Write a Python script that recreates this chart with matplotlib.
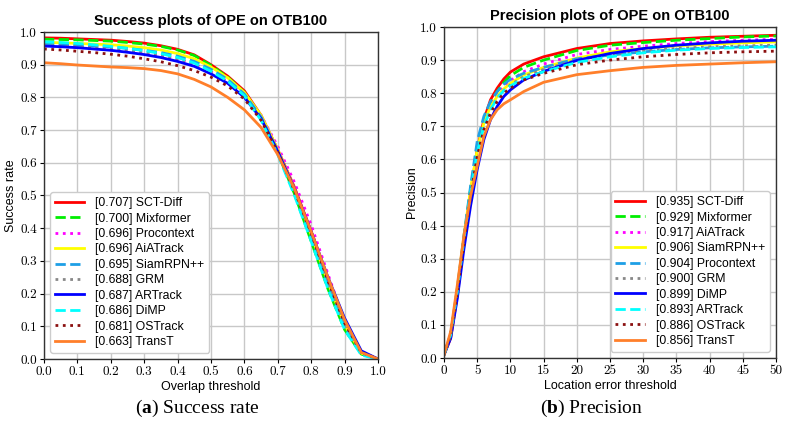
import numpy as np
import matplotlib
matplotlib.use('Agg')
import matplotlib.pyplot as plt

plt.rcParams['font.family'] = ['Liberation Sans', 'DejaVu Sans']
plt.rcParams['mathtext.fontset'] = 'custom'
plt.rcParams['mathtext.rm'] = 'Liberation Serif'
plt.rcParams['mathtext.bf'] = 'Liberation Serif:bold'
plt.rcParams['axes.formatter.use_mathtext'] = True

# line styles by rank in legend
colors = ['#ff0000', '#00ee00', '#ff00ff', '#ffff00', '#1e9fe6',
          '#888888', '#0000ff', '#00ffff', '#8b1010', '#ff7f2a']
styles = ['-', '--', ':', '-', '--', ':', '-', '--', ':', '-']

# ---- success plot ----
succ_x = [0.0, 0.05, 0.1, 0.15, 0.2, 0.25, 0.3, 0.35, 0.4, 0.45, 0.5,
          0.55, 0.6, 0.65, 0.7, 0.75, 0.8, 0.85, 0.9, 0.95, 1.0]
succ_names = ['SCT-Diff', 'Mixformer', 'Procontext', 'AiATrack', 'SiamRPN++',
              'GRM', 'ARTrack', 'DiMP', 'OSTrack', 'TransT']
succ_auc = [0.707, 0.700, 0.696, 0.696, 0.695, 0.688, 0.687, 0.686, 0.681, 0.663]
succ_sct = [0.982, 0.981, 0.979, 0.977, 0.975, 0.971, 0.966, 0.958, 0.947, 0.930, 0.900,
            0.865, 0.820, 0.745, 0.640, 0.525, 0.390, 0.245, 0.115, 0.020, 0.0]
succ_mix = [0.978, 0.977, 0.976, 0.974, 0.972, 0.968, 0.963, 0.956, 0.945, 0.928, 0.898,
            0.862, 0.815, 0.740, 0.630, 0.505, 0.360, 0.215, 0.090, 0.015, 0.0]
succ_pro = [0.958, 0.956, 0.953, 0.949, 0.945, 0.940, 0.934, 0.926, 0.916, 0.901, 0.878,
            0.848, 0.808, 0.745, 0.650, 0.540, 0.410, 0.260, 0.115, 0.020, 0.0]
succ_aia = [0.968, 0.967, 0.965, 0.963, 0.961, 0.957, 0.952, 0.945, 0.934, 0.918, 0.893,
            0.860, 0.815, 0.745, 0.640, 0.520, 0.380, 0.235, 0.105, 0.018, 0.0]
succ_siam = [0.962, 0.961, 0.959, 0.957, 0.954, 0.950, 0.944, 0.937, 0.926, 0.910, 0.886,
             0.855, 0.810, 0.740, 0.635, 0.515, 0.375, 0.230, 0.100, 0.015, 0.0]
succ_grm = [0.958, 0.957, 0.955, 0.952, 0.949, 0.944, 0.938, 0.930, 0.918, 0.902, 0.878,
            0.848, 0.805, 0.735, 0.632, 0.515, 0.378, 0.232, 0.100, 0.015, 0.0]
succ_ar = [0.957, 0.955, 0.952, 0.948, 0.944, 0.938, 0.931, 0.922, 0.910, 0.895, 0.872,
           0.843, 0.800, 0.735, 0.635, 0.520, 0.390, 0.250, 0.125, 0.025, 0.0]
succ_dimp = [0.970, 0.968, 0.965, 0.961, 0.956, 0.950, 0.943, 0.934, 0.922, 0.905, 0.880,
             0.850, 0.805, 0.730, 0.625, 0.500, 0.360, 0.215, 0.090, 0.012, 0.0]
succ_os = [0.948, 0.945, 0.941, 0.937, 0.932, 0.926, 0.918, 0.909, 0.897, 0.882, 0.862,
           0.835, 0.795, 0.730, 0.632, 0.515, 0.385, 0.240, 0.110, 0.020, 0.0]
succ_transt = [0.906, 0.903, 0.899, 0.896, 0.893, 0.891, 0.888, 0.882, 0.872, 0.855, 0.832,
               0.800, 0.762, 0.708, 0.625, 0.520, 0.390, 0.250, 0.120, 0.020, 0.0]
succ_vals = [succ_sct, succ_mix, succ_pro, succ_aia, succ_siam,
             succ_grm, succ_ar, succ_dimp, succ_os, succ_transt]

# ---- precision plot ----
prec_x = [0, 1, 2, 3, 4, 5, 6, 7, 8, 9, 10, 12, 15, 20, 25, 30, 35, 40, 45, 50]
prec_names = ['SCT-Diff', 'Mixformer', 'AiATrack', 'SiamRPN++', 'Procontext',
              'GRM', 'DiMP', 'ARTrack', 'OSTrack', 'TransT']
prec_score = [0.935, 0.929, 0.917, 0.906, 0.904, 0.900, 0.899, 0.893, 0.886, 0.856]
prec_sct = [0.01, 0.06, 0.19, 0.35, 0.50, 0.63, 0.72, 0.78, 0.815, 0.843, 0.864,
            0.888, 0.910, 0.935, 0.950, 0.958, 0.964, 0.969, 0.972, 0.975]
prec_mix = [0.01, 0.07, 0.20, 0.36, 0.51, 0.64, 0.72, 0.77, 0.805, 0.832, 0.853,
            0.878, 0.900, 0.929, 0.945, 0.953, 0.960, 0.965, 0.970, 0.973]
prec_aia = [0.01, 0.07, 0.20, 0.36, 0.50, 0.63, 0.71, 0.76, 0.795, 0.820, 0.838,
            0.865, 0.888, 0.917, 0.932, 0.942, 0.950, 0.956, 0.960, 0.963]
prec_siam = [0.01, 0.07, 0.21, 0.37, 0.51, 0.63, 0.71, 0.76, 0.790, 0.813, 0.830,
             0.855, 0.878, 0.906, 0.925, 0.935, 0.943, 0.948, 0.952, 0.955]
prec_pro = [0.01, 0.07, 0.21, 0.37, 0.52, 0.655, 0.73, 0.775, 0.805, 0.827, 0.842,
            0.860, 0.878, 0.904, 0.915, 0.925, 0.932, 0.937, 0.940, 0.942]
prec_grm = [0.01, 0.07, 0.20, 0.36, 0.50, 0.62, 0.70, 0.75, 0.785, 0.808, 0.825,
            0.850, 0.872, 0.900, 0.915, 0.928, 0.935, 0.940, 0.943, 0.945]
prec_dimp = [0.01, 0.06, 0.18, 0.33, 0.46, 0.57, 0.66, 0.72, 0.760, 0.790, 0.810,
             0.840, 0.866, 0.899, 0.920, 0.935, 0.945, 0.952, 0.957, 0.960]
prec_ar = [0.01, 0.07, 0.20, 0.36, 0.50, 0.62, 0.70, 0.75, 0.785, 0.808, 0.822,
           0.845, 0.865, 0.893, 0.910, 0.922, 0.930, 0.935, 0.938, 0.940]
prec_os = [0.01, 0.07, 0.20, 0.35, 0.49, 0.61, 0.69, 0.74, 0.775, 0.800, 0.815,
           0.840, 0.860, 0.886, 0.900, 0.910, 0.917, 0.922, 0.925, 0.927]
prec_transt = [0.01, 0.08, 0.22, 0.37, 0.49, 0.58, 0.67, 0.72, 0.750, 0.768, 0.780,
               0.805, 0.833, 0.856, 0.868, 0.878, 0.884, 0.888, 0.892, 0.895]
prec_vals = [prec_sct, prec_mix, prec_aia, prec_siam, prec_pro,
             prec_grm, prec_dimp, prec_ar, prec_os, prec_transt]


def style_axes(ax, title, xlabel, ylabel):
    ax.set_title(title, fontsize=10.5, fontweight='bold', pad=5)
    ax.set_xlabel(xlabel, fontsize=9, labelpad=2)
    ax.set_ylabel(ylabel, fontsize=9, labelpad=2)
    ax.grid(True, color='#c8c8c8', linewidth=1.0)
    ax.set_axisbelow(True)
    for sp in ax.spines.values():
        sp.set_color('#333333')
        sp.set_linewidth(1.0)
    ax.tick_params(labelsize=9.5, length=3, pad=2)
    for lab in ax.get_xticklabels() + ax.get_yticklabels():
        lab.set_fontfamily('cmr10')


fig = plt.figure(figsize=(7.88, 4.34), dpi=100)

ax1 = fig.add_axes([0.0558, 0.1728, 0.4239, 0.7535])
for i in range(len(succ_names)):
    ax1.plot(succ_x, succ_vals[i], color=colors[i], linestyle=styles[i], linewidth=2,
             label='[%.3f] %s' % (succ_auc[i], succ_names[i]))
ax1.set_xlim(0, 1)
ax1.set_ylim(0, 1)
ax1.set_xticks(np.arange(0, 1.01, 0.1))
ax1.set_yticks(np.arange(0, 1.01, 0.1))
ax1.set_xticklabels(['%.1f' % v for v in np.arange(0, 1.01, 0.1)])
ax1.set_yticklabels(['%.1f' % v for v in np.arange(0, 1.01, 0.1)])
style_axes(ax1, 'Success plots of OPE on OTB100', 'Overlap threshold', 'Success rate')
ax1.legend(loc='lower left', fontsize=8.8, handlelength=2.4, labelspacing=0.28,
           borderpad=0.4, handletextpad=0.9, framealpha=1, edgecolor='#cccccc')

ax2 = fig.add_axes([0.5635, 0.1751, 0.4213, 0.7627])
for i in range(len(prec_names)):
    ax2.plot(prec_x, prec_vals[i], color=colors[i], linestyle=styles[i], linewidth=2,
             label='[%.3f] %s' % (prec_score[i], prec_names[i]))
ax2.set_xlim(0, 50)
ax2.set_ylim(0, 1)
ax2.set_xticks(np.arange(0, 51, 5))
ax2.set_yticks(np.arange(0, 1.01, 0.1))
ax2.set_xticklabels(['%d' % v for v in np.arange(0, 51, 5)])
ax2.set_yticklabels(['%.1f' % v for v in np.arange(0, 1.01, 0.1)])
style_axes(ax2, 'Precision plots of OPE on OTB100', 'Location error threshold', 'Precision')
ax2.legend(loc='lower right', fontsize=8.8, handlelength=2.4, labelspacing=0.28,
           borderpad=0.4, handletextpad=0.9, framealpha=1, edgecolor='#cccccc')

fig.text(0.25, 0.06, r'($\mathbf{a}$) Success rate', ha='center', va='center',
         fontsize=14, family='Liberation Serif')
fig.text(0.75, 0.06, r'($\mathbf{b}$) Precision', ha='center', va='center',
         fontsize=14, family='Liberation Serif')

fig.savefig('out.png', dpi=100)
